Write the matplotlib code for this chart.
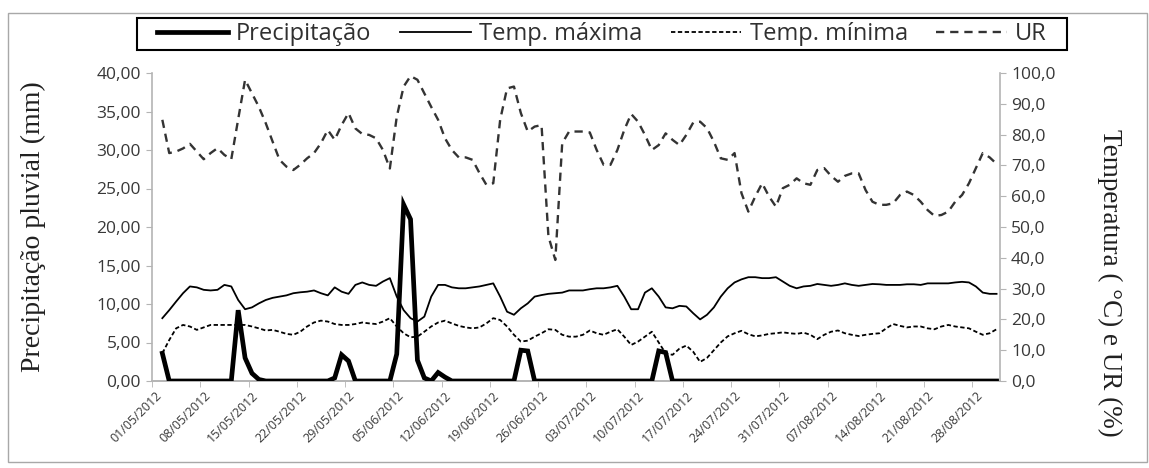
import matplotlib
matplotlib.use("Agg")
import matplotlib.pyplot as plt
from matplotlib.lines import Line2D
from matplotlib.patches import Rectangle
import numpy as np

# daily values from 02/05/2012 to 31/08/2012 (day 0 = 01/05/2012, no data)
precip = [3.6, 0, 0, 0, 0, 0, 0, 0, 0, 0,
          0, 9.2, 3.0, 1.0, 0.2, 0, 0, 0, 0, 0,
          0, 0, 0, 0, 0, 0.4, 3.4, 2.6, 0, 0,
          0, 0, 0, 0, 3.5, 22.9, 21.0, 2.7, 0.4, 0,
          1.1, 0.5, 0, 0, 0, 0, 0, 0, 0, 0,
          0, 0, 4.0, 3.9, 0, 0, 0, 0, 0, 0,
          0, 0, 0, 0, 0, 0, 0, 0, 0, 0,
          0, 0, 3.9, 3.7, 0, 0, 0, 0, 0, 0,
          0, 0, 0, 0, 0, 0, 0, 0, 0, 0,
          0, 0, 0, 0, 0, 0, 0, 0, 0, 0,
          0, 0, 0, 0, 0, 0, 0, 0, 0, 0,
          0, 0, 0, 0, 0, 0, 0, 0, 0, 0,
          0, 0]

temp_max = [20.4, 23, 25.8, 28.5, 30.7, 30.4, 29.6, 29.4, 29.6, 31.2,
            30.7, 26.3, 23.3, 23.9, 25.2, 26.3, 27, 27.4, 27.8, 28.5,
            28.8, 29, 29.4, 28.5, 27.8, 30.4, 29, 28.3, 31.2, 32,
            31.2, 30.9, 32.3, 33.4, 27.4, 23, 20.4, 19.3, 20.9, 27.4,
            31.2, 31.2, 30.4, 30.1, 30.1, 30.4, 30.7, 31.2, 31.7, 27.4,
            22.5, 21.5, 23.6, 25.2, 27.4, 27.9, 28.3, 28.5, 28.7, 29.4,
            29.4, 29.4, 29.8, 30.1, 30.1, 30.4, 30.9, 27.4, 23.3, 23.3,
            28.7, 30.1, 27.4, 23.9, 23.6, 24.4, 24.2, 22, 20, 21.5,
            23.9, 27.4, 30.1, 32, 33, 33.7, 33.7, 33.4, 33.4, 33.7,
            32.3, 30.9, 30.1, 30.7, 30.9, 31.5, 31.2, 30.9, 31.2, 31.7,
            31.2, 30.9, 31.2, 31.5, 31.4, 31.2, 31.2, 31.2, 31.4, 31.4,
            31.2, 31.7, 31.7, 31.7, 31.7, 32, 32.2, 32, 30.7, 28.7,
            28.3, 28.3]

temp_min = [9, 13.3, 17.1, 18.2, 17.7, 16.6, 17.4, 18.2, 18.2, 18.2,
            18.2, 18.2, 18.2, 17.7, 17.1, 16.4, 16.6, 16, 15.3, 15,
            16, 17.7, 19, 19.6, 19.3, 18.5, 18.2, 18.2, 18.5, 19,
            18.7, 18.5, 19.3, 20.4, 17.7, 15.5, 14.2, 14.4, 16, 17.7,
            19, 19.6, 18.7, 17.9, 17.4, 17.1, 17.4, 18.7, 20.4, 19.8,
            17.7, 15, 12.8, 13.1, 14.4, 15.5, 16.8, 16.6, 15, 14.4,
            14.4, 15, 16.4, 15.5, 15, 16, 16.8, 14.4, 11.7, 12.8,
            14.4, 16, 12.5, 9, 8.5, 10.5, 11.5, 9.5, 6.2, 7.5,
            10, 12.5, 14.5, 15.5, 16.3, 15.2, 14.5, 14.8, 15.3, 15.5,
            15.8, 15.5, 15.3, 15.7, 15, 13.6, 15, 16, 16.4, 15.5,
            15, 14.6, 15, 15.3, 15.5, 17.1, 18.5, 17.9, 17.4, 17.7,
            17.7, 17.1, 16.8, 17.7, 18.2, 17.7, 17.4, 17.1, 16, 15,
            15.5, 16.8]

ur = [84.8, 74, 74.5, 75.5, 77, 74.5, 72, 74, 75.6, 73.4,
      72, 85, 97.8, 93.4, 89, 83.7, 77.7, 71.8, 69.6, 68.5,
      70.2, 72.3, 74, 77.2, 81.5, 78.3, 83.1, 87, 82, 80.2,
      79.9, 78.8, 75, 69, 85.8, 95.6, 99, 97.8, 93.4, 89,
      84.8, 78.8, 75, 72.6, 72.6, 71.8, 67.5, 63.7, 64.2, 84.8,
      95, 95.6, 87, 81, 82.6, 83.1, 47, 39.3, 77.2, 81,
      81, 81, 80.7, 75, 70.2, 70.2, 75, 81.5, 86.7, 84.2,
      79.9, 75, 76.6, 80.4, 78.3, 76.6, 79.9, 83.9, 84.2, 82.1,
      77.7, 72.3, 71.8, 74, 61, 55, 59.9, 64.2, 59.9, 56.6,
      62.6, 63.7, 65.8, 64.2, 63.7, 68.5, 69.1, 66.6, 64.7, 66.6,
      67.4, 67.4, 62, 58.2, 57.2, 57.2, 57.7, 60.4, 61.5, 60.4,
      58.2, 55.5, 53.6, 53.9, 55, 58.2, 60.4, 64.2, 69.1, 74,
      72.6, 70.5]

tick_labels = ["01/05/2012", "08/05/2012", "15/05/2012", "22/05/2012",
               "29/05/2012", "05/06/2012", "12/06/2012", "19/06/2012",
               "26/06/2012", "03/07/2012", "10/07/2012", "17/07/2012",
               "24/07/2012", "31/07/2012", "07/08/2012", "14/08/2012",
               "21/08/2012", "28/08/2012"]

days = np.arange(1, len(precip) + 1)
n_cat = len(precip) + 1
axis_grey = "#b4b4b4"
text_grey = "#383838"

plt.rcParams["font.family"] = ["Open Sans", "DejaVu Sans"]

fig = plt.figure(figsize=(11.49, 4.68), dpi=100)
ax = fig.add_axes([152 / 1149, 1 - 381 / 468, 848 / 1149, 308 / 468])
ax2 = ax.twinx()

ax.plot(days, precip, color="black", lw=3.4, solid_joinstyle="miter", zorder=5)
ax2.plot(days, temp_max, color="black", lw=1.3)
ax2.plot(days, temp_min, color="black", lw=1.3, dashes=(2.4, 1.4))
ax2.plot(days, ur, color="#333333", lw=1.7, dashes=(3.5, 2.5))

ax.set_zorder(ax2.get_zorder() + 1)
ax.patch.set_visible(False)

ax.set_xlim(-0.5, n_cat - 0.5)
ax.set_ylim(0, 40)
ax2.set_ylim(0, 100)
ax.set_yticks(np.arange(0, 40.01, 5))
ax.set_yticklabels([f"{v:.2f}".replace(".", ",") for v in np.arange(0, 40.01, 5)])
ax2.set_yticks(np.arange(0, 100.01, 10))
ax2.set_yticklabels([f"{v:.1f}".replace(".", ",") for v in np.arange(0, 100.01, 10)])

ax.set_xticks(np.arange(0, n_cat, 7))
ax.set_xticklabels(tick_labels, rotation=45, ha="right", rotation_mode="anchor",
                   fontsize=9, color=text_grey)
ax.set_xticks(np.arange(-0.5, n_cat, 7), minor=True)
ax.tick_params(axis="x", which="major", length=0, pad=6)
ax.tick_params(axis="x", which="minor", length=4, color=axis_grey, direction="out")

for a in (ax, ax2):
    for s in a.spines.values():
        s.set_color(axis_grey)
        s.set_linewidth(1.2)
    a.spines["top"].set_visible(False)
ax.spines["right"].set_visible(False)
ax2.spines["left"].set_visible(False)
ax.tick_params(axis="y", length=4, color=axis_grey, labelsize=12.5,
               labelcolor=text_grey, pad=4)
ax2.tick_params(axis="y", length=4, color=axis_grey, labelsize=12.5,
                labelcolor=text_grey, pad=4)

ax.set_ylabel("Precipitação pluvial (mm)", family="Liberation Serif",
              fontsize=20, color="#202020")
ax.yaxis.set_label_coords(-0.125, 0.5)
fig.text(1110 / 1149, 1 - 283 / 468, "Temperatura ( °C) e UR (%)",
         family="Liberation Serif", fontsize=19.5, color="#202020",
         rotation=-90, ha="center", va="center")

handles = [
    Line2D([], [], color="black", lw=3.4),
    Line2D([], [], color="black", lw=1.3),
    Line2D([], [], color="black", lw=1.3, dashes=(2.4, 1.4)),
    Line2D([], [], color="#333333", lw=1.7, dashes=(3.5, 2.5)),
]
names = ["Precipitação", "Temp. máxima", "Temp. mínima", "UR"]
fig.legend(handles, names, loc="center", bbox_to_anchor=(602 / 1149, 1 - 34 / 468),
           ncol=4, frameon=False, fontsize=17, handlelength=3.0,
           handletextpad=0.35, columnspacing=1.2, labelcolor="#303030")

# legend frame and chart border
fig.patches.append(Rectangle((137 / 1149, 1 - 50 / 468), 930 / 1149, 32 / 468,
                             transform=fig.transFigure, fill=False,
                             edgecolor="black", lw=1.5))
fig.patches.append(Rectangle((8 / 1149, 1 - 462 / 468), 1139 / 1149, 449 / 468,
                             transform=fig.transFigure, fill=False,
                             edgecolor="#a8a8a8", lw=1.0))

fig.savefig("out.png", dpi=100)
